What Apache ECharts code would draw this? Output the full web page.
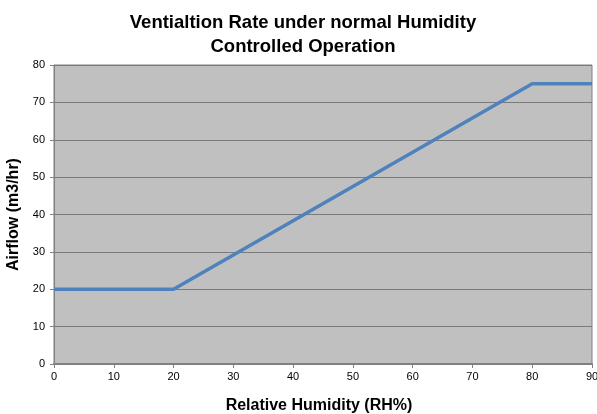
<!DOCTYPE html>
<html><head><meta charset="utf-8">
<script src="https://cdn.jsdelivr.net/npm/echarts@6/dist/echarts.min.js"></script>
<style>html,body{margin:0;padding:0;background:#fff}#c{width:597px;height:414px}</style>
</head><body><div id="c"></div>
<script>
const humidity = [0, 20, 80, 90];
const airflow = [20, 20, 75, 75];
const xTicks = [0, 10, 20, 30, 40, 50, 60, 70, 80, 90];
const yTicks = [0, 10, 20, 30, 40, 50, 60, 70, 80];

const chart = echarts.init(document.getElementById('c'));
chart.setOption({
  animation: false,
  backgroundColor: '#fff',
  title: {
    text: 'Ventialtion Rate under normal Humidity\nControlled Operation',
    left: 298, top: 6, textAlign: 'center',
    textStyle: {fontFamily: 'Liberation Sans', fontSize: 18.5, fontWeight: 'bold', color: '#000', lineHeight: 24}
  },
  grid: {left: 54, right: 5, top: 65, bottom: 50, outerBoundsMode: 'none', containLabel: false,
    show: true, backgroundColor: '#C0C0C0', borderColor: '#808080', borderWidth: 1},
  xAxis: {
    type: 'value', min: 0, max: 90, interval: 10,
    name: 'Relative Humidity (RH%)', nameLocation: 'middle', nameGap: 34,
    nameTextStyle: {fontFamily: 'Liberation Sans', fontSize: 16, fontWeight: 'bold', color: '#000', padding: [0, 8, 0, 0]},
    axisLine: {show: true, lineStyle: {color: '#808080', width: 2}},
    axisTick: {show: true, length: 4, lineStyle: {color: '#808080'}},
    axisLabel: {fontFamily: 'Liberation Sans', fontSize: 11, color: '#000', margin: 7,
      formatter: v => xTicks.includes(v) ? String(v) : ''},
    splitLine: {show: false}
  },
  yAxis: {
    type: 'value', min: 0, max: 80, interval: 10,
    name: 'Airflow (m3/hr)', nameLocation: 'middle', nameGap: 32,
    nameTextStyle: {fontFamily: 'Liberation Sans', fontSize: 16, fontWeight: 'bold', color: '#000'},
    axisLine: {show: true, lineStyle: {color: '#808080', width: 1}},
    axisTick: {show: true, length: 4, lineStyle: {color: '#808080'}},
    axisLabel: {fontFamily: 'Liberation Sans', fontSize: 11, color: '#000', margin: 9,
      formatter: v => yTicks.includes(v) ? String(v) : ''},
    splitLine: {show: true, lineStyle: {color: '#7a7a7a', width: 1}}
  },
  series: [{
    type: 'line',
    data: humidity.map((h, i) => [h, airflow[i]]),
    showSymbol: false, symbol: 'none',
    lineStyle: {color: '#4F81BD', width: 3.5},
    z: 5
  }]
});
</script></body></html>
